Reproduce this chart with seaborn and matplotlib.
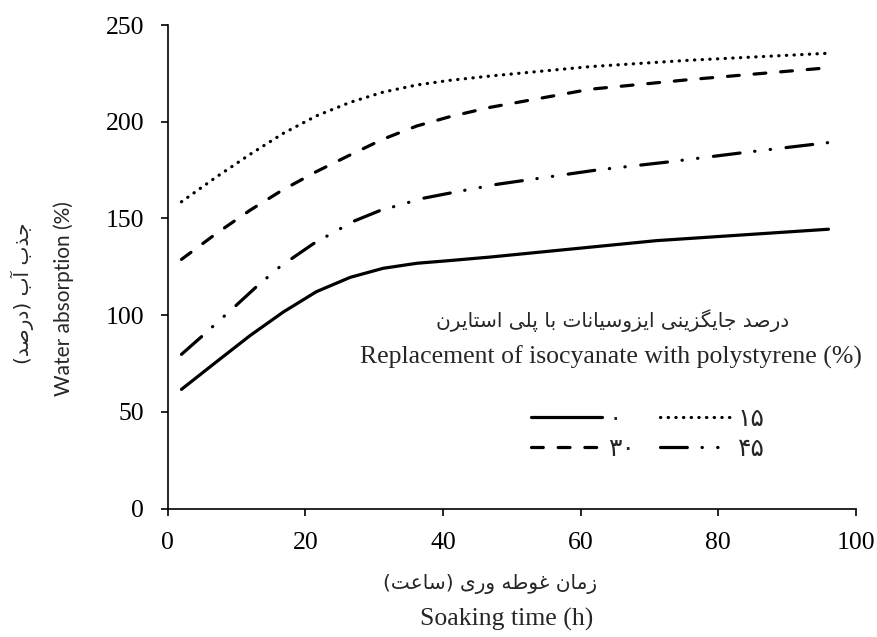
import numpy as np
import pandas as pd
import matplotlib
matplotlib.use("Agg")
import matplotlib.pyplot as plt
import seaborn as sns
from matplotlib.font_manager import FontProperties

# ---------------- data ----------------
series_names = ["0", "15", "30", "45"]
legend_labels = {"0": "\u06f0", "15": "\u06f1\u06f5", "30": "\u06f3\u06f0", "45": "\u06f4\u06f5"}

time_0 = [2, 7.1, 12, 16.8, 21.6, 26.5, 31.3, 36.2, 41, 46.8, 71, 96]
abs_0 = [61.6, 75.9, 89.5, 101.6, 112.1, 119.5, 124.2, 126.8, 128.2, 130.0, 138.5, 144.4]

time_15 = [2, 7.1, 12, 16.8, 21.6, 26.5, 31.3, 36.2, 41, 46.8, 61.4, 75.9, 96]
abs_15 = [158.6, 171.5, 183.2, 194.0, 203.0, 210.0, 215.3, 219.0, 221.4, 223.6, 228.5, 231.8, 235.4]

time_30 = [2, 7.1, 12, 16.6, 21.6, 26.5, 31.3, 36.2, 41, 46.8, 61.4, 75.9, 96]
abs_30 = [128.8, 142.3, 154.3, 164.5, 174.2, 182.8, 191.0, 197.8, 202.6, 207.4, 216.8, 221.8, 227.9]

time_45 = [2, 4.9, 10, 12.9, 16.3, 21.2, 27, 30.8, 37.1, 41.3, 47.8, 62.3, 73, 83.6, 96]
abs_45 = [79.7, 88.8, 105.2, 114.7, 125.0, 137.0, 148.5, 154.0, 160.4, 163.3, 167.6, 175.0, 179.3, 184.0, 189.2]

x_ticks = [0, 20, 40, 60, 80, 100]
y_ticks = [0, 50, 100, 150, 200, 250]

title_fa = "درصد جایگزینی ایزوسیانات با پلی استایرن"
title_en = "Replacement of isocyanate with polystyrene (%)"
xlabel_fa = "زمان غوطه وری (ساعت)"
xlabel_en = "Soaking time (h)"
ylabel_fa = "جذب آب (درصد)"
ylabel_en = "Water absorption (%)"

# ---------------- minimal Persian shaping (presentation forms, visual order) ----------------
FORMS = {
    'ا': ('\uFE8D', '\uFE8E', None, None),
    'آ': ('\uFE81', '\uFE82', None, None),
    'ب': ('\uFE8F', '\uFE90', '\uFE91', '\uFE92'),
    'پ': ('\uFB56', '\uFB57', '\uFB58', '\uFB59'),
    'ت': ('\uFE95', '\uFE96', '\uFE97', '\uFE98'),
    'ج': ('\uFE9D', '\uFE9E', '\uFE9F', '\uFEA0'),
    'د': ('\uFEA9', '\uFEAA', None, None),
    'ذ': ('\uFEAB', '\uFEAC', None, None),
    'ر': ('\uFEAD', '\uFEAE', None, None),
    'ز': ('\uFEAF', '\uFEB0', None, None),
    'س': ('\uFEB1', '\uFEB2', '\uFEB3', '\uFEB4'),
    'ص': ('\uFEB9', '\uFEBA', '\uFEBB', '\uFEBC'),
    'ط': ('\uFEC1', '\uFEC2', '\uFEC3', '\uFEC4'),
    'ع': ('\uFEC9', '\uFECA', '\uFECB', '\uFECC'),
    'غ': ('\uFECD', '\uFECE', '\uFECF', '\uFED0'),
    'ل': ('\uFEDD', '\uFEDE', '\uFEDF', '\uFEE0'),
    'م': ('\uFEE1', '\uFEE2', '\uFEE3', '\uFEE4'),
    'ن': ('\uFEE5', '\uFEE6', '\uFEE7', '\uFEE8'),
    'ه': ('\uFEE9', '\uFEEA', '\uFEEB', '\uFEEC'),
    'و': ('\uFEED', '\uFEEE', None, None),
    'گ': ('\uFB92', '\uFB93', '\uFB94', '\uFB95'),
    '\u06cc': ('\uFBFC', '\uFBFD', '\uFBFE', '\uFBFF'),
}


def fa(text):
    text = text.replace('\u064a', '\u06cc')
    out = []
    n = len(text)
    for i, c in enumerate(text):
        f = FORMS.get(c)
        if f is None:
            out.append(c)
            continue
        prev = text[i - 1] if i > 0 else None
        nxt = text[i + 1] if i < n - 1 else None
        jp = prev in FORMS and FORMS[prev][2] is not None
        jn = f[2] is not None and nxt in FORMS
        if jp and jn:
            g = f[3]
        elif jp:
            g = f[1]
        elif jn:
            g = f[2]
        else:
            g = f[0]
        out.append(g)
    vis = ''.join(reversed(out))
    return vis.translate(str.maketrans('()', ')('))


# ---------------- build table ----------------
frames = []
for name, t, a in [("0", time_0, abs_0), ("15", time_15, abs_15),
                   ("30", time_30, abs_30), ("45", time_45, abs_45)]:
    frames.append(pd.DataFrame({"time": t, "absorption": a, "rep": name}))
df = pd.concat(frames, ignore_index=True)

# ---------------- style ----------------
sns.set_theme(style="ticks")
plt.rcParams['font.family'] = ['Liberation Serif', 'DejaVu Sans']
plt.rcParams['lines.dash_capstyle'] = 'round'

W, H = 878, 637
fig = plt.figure(figsize=(W / 100, H / 100), dpi=100)
ax = fig.add_axes([167.7 / W, 1 - 508.5 / H, (856 - 167.7) / W, (508.5 - 25) / H])

dash_map = {
    "0": "",
    "15": (0.1, 2.3),
    "30": (3.7, 4.65),
    "45": (8.4, 4.6, 0.1, 4.8, 0.1, 4.9),
}
sns.lineplot(data=df, x="time", y="absorption", hue="rep", style="rep",
             hue_order=series_names, style_order=series_names,
             palette=["black"] * 4, dashes=dash_map, linewidth=2.3,
             legend=False, ax=ax, sort=True)
for ln in ax.lines:
    ln.set_dash_capstyle('round')
    ln.set_solid_capstyle('round')
    ln.set_solid_joinstyle('round')

ax.set_xlim(0, 100)
ax.set_ylim(0, 250)
ax.set_xticks(x_ticks)
ax.set_yticks(y_ticks)
ax.set_xticklabels([str(v) for v in x_ticks])
ax.set_yticklabels([str(v) for v in y_ticks])
ax.set_xlabel("")
ax.set_ylabel("")
for s in ["top", "right"]:
    ax.spines[s].set_visible(False)
for s in ["left", "bottom"]:
    ax.spines[s].set_linewidth(1.2)
    ax.spines[s].set_color("black")
ax.tick_params(axis="both", direction="out", length=5, width=1.2, color="black",
               labelsize=18.5, pad=12, labelcolor="black")
for lab in ax.get_xticklabels() + ax.get_yticklabels():
    lab.set_family('Liberation Serif')

# ---------------- legend ----------------
line_by_name = dict(zip(series_names, ax.lines))
order = ["0", "30", "15", "45"]
leg = ax.legend([line_by_name[k] for k in order], [legend_labels[k] for k in order],
                ncol=2, frameon=False, loc="upper left",
                bbox_to_anchor=(530.7 / W, 1 - 407 / H), bbox_transform=fig.transFigure,
                borderpad=0, borderaxespad=0, handlelength=2.85, handletextpad=0.25,
                columnspacing=1.0, labelspacing=0.22,
                prop=FontProperties(family='DejaVu Sans', size=18))

# ---------------- texts ----------------
def ftext(x, y, s, **kw):
    fig.text(x / W, 1 - y / H, s, ha="center", va="center", **kw)

ftext(613, 321, fa(title_fa), family='DejaVu Sans', fontsize=14.5)
ftext(611, 357, title_en, family='Liberation Serif', fontsize=18.5)
ftext(490, 584, fa(xlabel_fa), family='DejaVu Sans', fontsize=14.5)
ftext(507, 619, xlabel_en, family='Liberation Serif', fontsize=18.5)
ftext(64, 299, ylabel_en, family='Lato', fontsize=15, rotation=90)
ftext(22, 293, fa(ylabel_fa), family='DejaVu Sans', fontsize=14.5, rotation=90)

fig.savefig("out.png", dpi=100)
